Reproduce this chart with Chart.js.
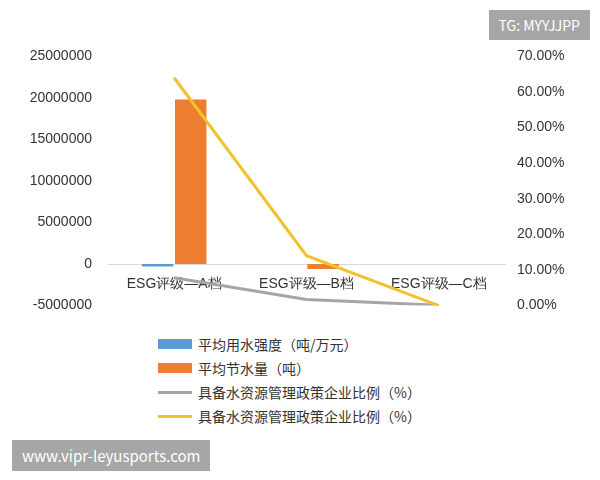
<!DOCTYPE html>
<html><head><meta charset="utf-8">
<script src="https://cdn.jsdelivr.net/npm/chart.js@4"></script>
<style>
body{margin:0;background:#fff;font-family:"Noto Sans CJK SC","Noto Sans",sans-serif;}
#wrap{position:relative;width:600px;height:480px;}
#c{position:absolute;left:0;top:40px;}
.tag{position:absolute;background:#a6a6a6;color:#fff;font-size:14px;padding:5px 10px;}
#legend{position:absolute;left:158px;top:332px;font-size:14px;color:#333;line-height:24px;}
.li{display:flex;align-items:center;}
.sw{width:34px;margin-right:6px;}
</style></head><body>
<div id="wrap">
<canvas id="c" width="600" height="282"></canvas>
<div class="tag" style="right:10px;top:10px;">TG: MYYJJPP</div>
<div class="tag" style="left:12px;top:440px;font-size:15px;">www.vipr-leyusports.com</div>
<div id="legend"></div>
</div>
<script>
const categories = ['ESG评级—A档', 'ESG评级—B档', 'ESG评级—C档'];
const waterIntensity = [-300000, 0, 0];
const waterSaved = [19800000, -600000, 0];
const policyGrey = [7.8, 1.7, 0.1];
const policyYellow = [64, 14, 0];
const legendLabels = ['平均用水强度（吨/万元）', '平均节水量（吨）', '具备水资源管理政策企业比例（%）', '具备水资源管理政策企业比例（%）'];
const colors = ['#5b9bd5', '#ed7d31', '#a5a5a5', '#f2c12e'];

new Chart(document.getElementById('c'), {
  data: {
    labels: categories,
    datasets: [
      {type: 'line', data: policyYellow, borderColor: colors[3], borderWidth: 3, pointRadius: 0, yAxisID: 'y1', tension: 0},
      {type: 'line', data: policyGrey, borderColor: colors[2], borderWidth: 3, pointRadius: 0, yAxisID: 'y1', tension: 0},
      {type: 'bar', data: waterIntensity, backgroundColor: colors[0], yAxisID: 'y', categoryPercentage: 0.5, barPercentage: 0.95},
      {type: 'bar', data: waterSaved, backgroundColor: colors[1], yAxisID: 'y', categoryPercentage: 0.5, barPercentage: 0.95}
    ]
  },
  options: {
    responsive: false, animation: false,
    layout: {padding: {top: 16, left: 0, right: 10}},
    plugins: {legend: {display: false}, tooltip: {enabled: false}},
    scales: {
      x: {position: {y: 0}, grid: {display: false}, border: {color: '#d9d9d9'},
          ticks: {color: '#333', font: {size: 14}, padding: 4}},
      y: {min: -5000000, max: 25000000, ticks: {stepSize: 5000000, color: '#333', font: {size: 14}, padding: 8,
          callback: v => String(v)},
          grid: {display: false}, border: {display: false}, afterFit: s => { s.width = 108; }},
      y1: {position: 'right', min: 0, max: 70, ticks: {stepSize: 10, color: '#333', font: {size: 14}, padding: 4,
          callback: v => v.toFixed(2) + '%'}, grid: {display: false}, border: {display: false},
          afterFit: s => { s.width = 85; }}
    }
  }
});

const lg = document.getElementById('legend');
legendLabels.forEach((t, i) => {
  const sw = i < 2 ? `<span class="sw" style="height:10px;background:${colors[i]}"></span>`
                   : `<span class="sw" style="height:3px;background:${colors[i]}"></span>`;
  lg.innerHTML += `<div class="li">${sw}<span>${t}</span></div>`;
});
</script>
</body></html>
